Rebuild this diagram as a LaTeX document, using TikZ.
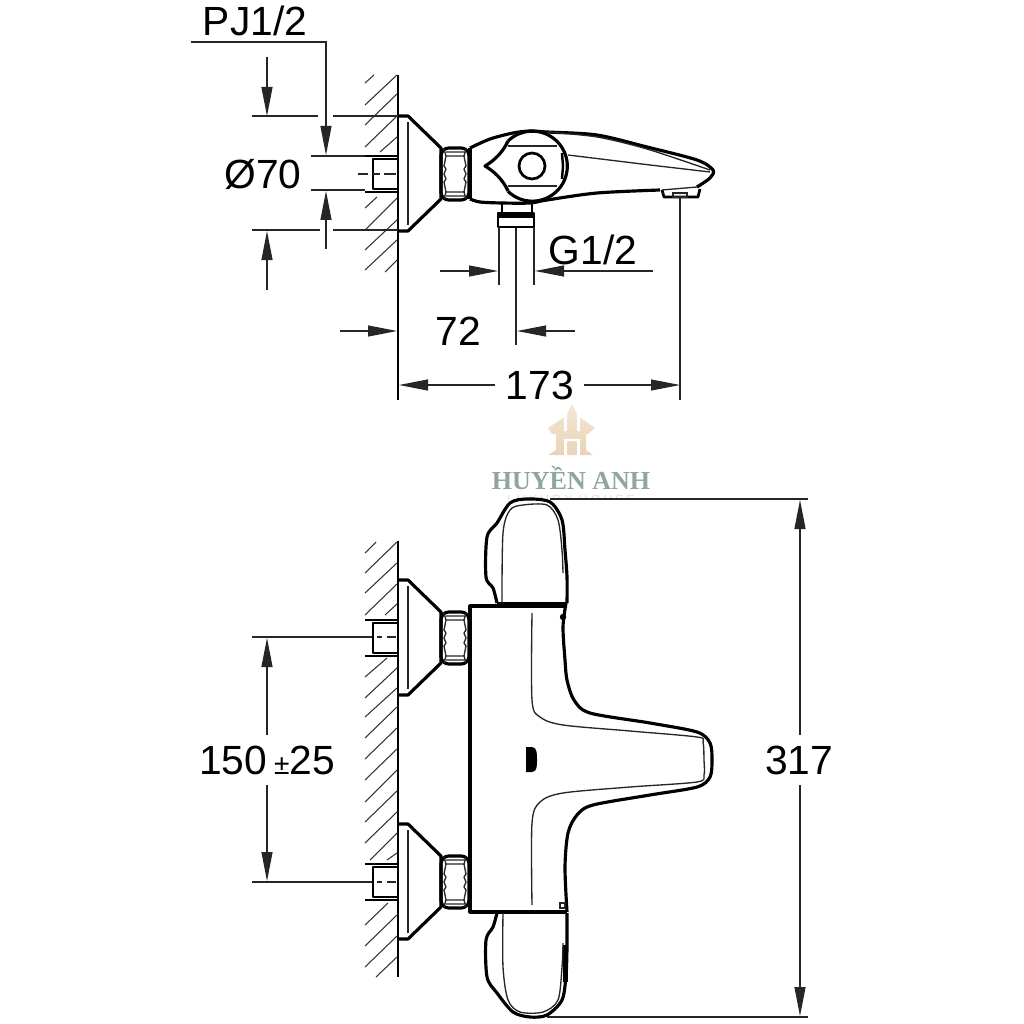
\documentclass[tikz,border=0pt]{standalone}
\usepackage{fontspec}
\setmainfont{Liberation Sans}
\newfontfamily\markfont{Liberation Serif}
\usetikzlibrary{arrows.meta}
\definecolor{markgrey}{HTML}{8FA5A0}
\definecolor{markgold}{HTML}{EFDCC4}
\tikzset{
  >={Stealth[inset=0pt,length=2.9mm,width=1.1mm]},
  dimline/.style={line width=0.33pt, black!85},
  hatchline/.style={line width=0.3pt, black!80},
  outline/.style={line width=0.9pt, line join=round},
  pipeline/.style={line width=0.78pt, line join=round},
  inner/.style={line width=0.38pt, black!85},
  dimtext/.style={font=\fontsize{11.6}{13}\selectfont, inner sep=0pt},
  flange/.pic={
    \draw[outline] (398,-58) -- (408,-58) -- (441,-26) -- (441,25) -- (408,57) -- (398,57);
    \draw[inner] (408,-52) -- (408,51);
    \draw[pipeline] (398,-15) -- (373,-15) -- (373,15) -- (398,15);
    \draw[pipeline] (365,-18) -- (398,-18);
    \draw[pipeline] (365,18) -- (398,18);
    \draw[outline, rounded corners=2.2pt] (441,-26) rectangle (469,26);
    \draw[inner] (446,-22) -- (464,-22) (446,-18) -- (464,-18) (444,-25) -- (446,-18) -- (444,-8) -- (446,-5) (466,-25) -- (464,-18) -- (466,-8) -- (464,-5);
    \draw[inner] (446,22) -- (464,22) (446,18) -- (464,18) (444,25) -- (446,18) -- (444,8) -- (446,5) (466,25) -- (464,18) -- (466,8) -- (464,5);
    \draw[inner] (446,-5) -- (444,0) -- (446,5) (464,-5) -- (466,0) -- (464,5);
  }
}
\begin{document}
\begin{tikzpicture}[x=0.1mm, y=-0.1mm]
\useasboundingbox (0,0) rectangle (1024,1024);
% watermark
\shade[top color=markgold!70, bottom color=markgold!90!brown] (572,404) -- (578,416) -- (595,428) -- (588,434) -- (586,434) -- (586,450) -- (593,455) -- (548,455) -- (556,450) -- (556,434) -- (552,434) -- (548,428) -- (566,416) -- cycle;
\fill[white] (564,413) rectangle (567,431) (577,413) rectangle (580,431) (564,439) rectangle (567,455) (577,439) rectangle (580,455) (567,439) rectangle (580,441);
\node[text=markgrey, font=\markfont\bfseries\fontsize{7.4}{9}\selectfont, inner sep=0pt] (brand) at (571,478) {HUYỀN ANH};
\begin{scope}
\clip (500,490) rectangle (640,499);
\node[text=markgold, font=\fontsize{3.4}{4}\selectfont, inner sep=0pt] (brandsub) at (571,499) {L U X U R Y \ H O U S E};
\end{scope}
% side view: wall
\draw[line width=0.5pt] (398,75) -- (398,400);
\draw[hatchline] (365,83) -- (374,75) (365,105) -- (397,75) (365,125) -- (397,94) (365,147) -- (397,116) (380,152) -- (397,137)
  (365,208) -- (377,197) (365,230) -- (397,198) (365,250) -- (397,220) (365,270) -- (397,240) (385,272) -- (397,260);
\pic at (0,174) {flange};
\draw[dimline] (358,174) -- (368,174) (373,174) -- (380,174) (384,174) -- (396,174);
% side view: spout
\draw[outline] plot[smooth, tension=0.5] coordinates {(470,148) (490,139) (513,133) (530,131) (547,132) (597,135) (647,147) (697,160) (713,170) (710,178) (697,187)};
\draw[outline] plot[smooth, tension=0.5] coordinates {(470,199) (480,202) (502,203) (530,203) (547,200) (597,193) (660,190)};
\draw[outline] (470,148) -- (470,199);
\draw[pipeline] (662,190) -- (664,197) -- (698,197) -- (700,189);
\draw[inner] (673,193) rectangle (687,197);
\draw[inner] (662,190) -- (697,187);
\draw[outline] (508,141) .. controls (503,152) and (495,160) .. (485,166) .. controls (495,172) and (503,180) .. (508,191);
\draw[outline] (508,141) arc[start angle=-134, end angle=134, radius=35];
\draw[pipeline] (532,166) circle[radius=13];
\draw[inner] (508,146) -- (557,146) (508,186) -- (557,186);
\draw[line width=0.7pt] (562,153) -- (563,166) -- (562,179);
\draw[inner] (568,155) -- (650,165) -- (710,172);
\draw[inner] plot[smooth, tension=0.5] coordinates {(547,132) (597,137) (647,149) (710,170)};
% side view: connection
\draw[pipeline] (502,204) -- (502,213) (532,204) -- (532,213);
\draw[pipeline] (498,213) rectangle (534,227);
\draw[outline] (498,216) -- (534,216);
% side view: dimensions
\node[dimtext] (pjlabel) at (255,21) {PJ1/2};
\draw[dimline, ->] (191,42) -- (326,42) -- (326,155);
\draw[dimline, ->] (267,57) -- (267,116);
\draw[dimline] (252,116) -- (318,116) (333,116) -- (398,116);
\draw[dimline] (311,156) -- (365,156) (311,190) -- (365,190);
\draw[dimline] (252,230) -- (320,230) (333,230) -- (398,230);
\draw[dimline, ->] (267,290) -- (267,231);
\draw[dimline, ->] (326,249) -- (326,191);
\node[dimtext] (borelabel) at (263,174) {Ø70};
\node[dimtext] (threadlabel) at (593,250) {G1/2};
\draw[dimline] (499,227) -- (499,285) (534,227) -- (534,285) (516,228) -- (516,345) (680,197) -- (680,400);
\draw[dimline, ->] (440,271) -- (498,271);
\draw[dimline, ->] (653,271) -- (535,271);
\draw[dimline, ->] (340,331) -- (397,331);
\draw[dimline, ->] (575,331) -- (517,331);
\node[dimtext] (reachlabel) at (458,331) {72};
\draw[dimline, ->] (495,385) -- (399,385);
\draw[dimline, ->] (584,385) -- (680,385);
\node[dimtext] (spoutlabel) at (540,385) {173};
% front view: wall
\draw[line width=0.5pt] (398,541) -- (398,977);
\draw[hatchline] (365,553) -- (376,542) (365,573) -- (397,542) (365,593) -- (397,563) (365,615) -- (397,584) (385,615) -- (397,604)
  (365,677) -- (387,658) (365,698) -- (397,668) (365,717) -- (397,688) (365,738) -- (397,707) (365,759) -- (397,728) (365,780) -- (397,749)
  (365,802) -- (397,770) (365,822) -- (397,791) (365,843) -- (397,812) (370,860) -- (397,833) (387,860) -- (397,853)
  (365,925) -- (388,903) (365,946) -- (397,915) (365,967) -- (397,936) (376,977) -- (397,957);
\pic at (0,638) {flange};
\pic at (0,882) {flange};
% front view: body
\draw[outline] (567,606) -- (470,606) -- (470,912) -- (567,912);
\draw[line width=1.1pt] (497,603.5) -- (567,603.5);
\draw[outline] plot[smooth, tension=0.5] coordinates {(566,603) (563,627) (565,660) (567,680) (574,700) (590,713) (650,723) (697,732) (710,743) (712,760) (710,777) (697,787) (650,795) (593,805) (577,815) (568,833) (565,867) (567,912)};
\draw[inner] plot[smooth, tension=0.5] coordinates {(532,613) (532,700) (540,717) (563,725) (630,731) (697,737) (703,742) (704,760) (704,775) (697,782) (630,787) (563,793) (540,802) (532,823) (532,905)};
\fill (526,747) -- (532,747) to[out=0, in=90] (537,759) to[out=-90, in=0] (532,772) -- (526,772) -- cycle;
\fill (563,617) circle[radius=3.2];
\draw[inner] (560,903) rectangle (565,908);
\fill (563,945) rectangle (568,982);
% front view: handles
\draw[outline] plot[smooth, tension=0.5] coordinates {(497,603) (493,588) (486,577) (487,537) (497,523) (510,503) (527,499) (550,502) (562,520) (565,550) (567,577) (567,603)};
\draw[inner] plot[smooth, tension=0.5] coordinates {(502,603) (503,533) (510,510) (523,505) (547,505) (558,520) (562,550) (563,573)};
\draw[outline] plot[smooth, tension=0.5] coordinates {(497,913) (493,927) (486,940) (487,977) (497,993) (513,1012) (530,1017) (547,1015) (562,1000) (566,975) (567,947) (567,913)};
\draw[inner] plot[smooth, tension=0.5] coordinates {(503,913) (503,967) (508,1000) (520,1012) (543,1012) (558,1000) (562,967) (563,943)};
% front view: dimensions
\draw[dimline] (252,637) -- (372,637) (377,637) -- (382,637) (387,637) -- (396,637) (252,882) -- (372,882) (377,882) -- (382,882) (387,882) -- (396,882);
\draw[dimline, ->] (267,735) -- (267,638);
\draw[dimline, ->] (267,785) -- (267,881);
\node[dimtext] (spacinglabel) at (267,760) {150\,{\fontsize{8}{9}\selectfont ±}25};
\draw[dimline] (550,499) -- (808,499) (547,1017) -- (808,1017);
\draw[dimline, ->] (800,735) -- (800,500);
\draw[dimline, ->] (800,785) -- (800,1016);
\node[dimtext] (heightlabel) at (799,760) {317};
\end{tikzpicture}
\end{document}
